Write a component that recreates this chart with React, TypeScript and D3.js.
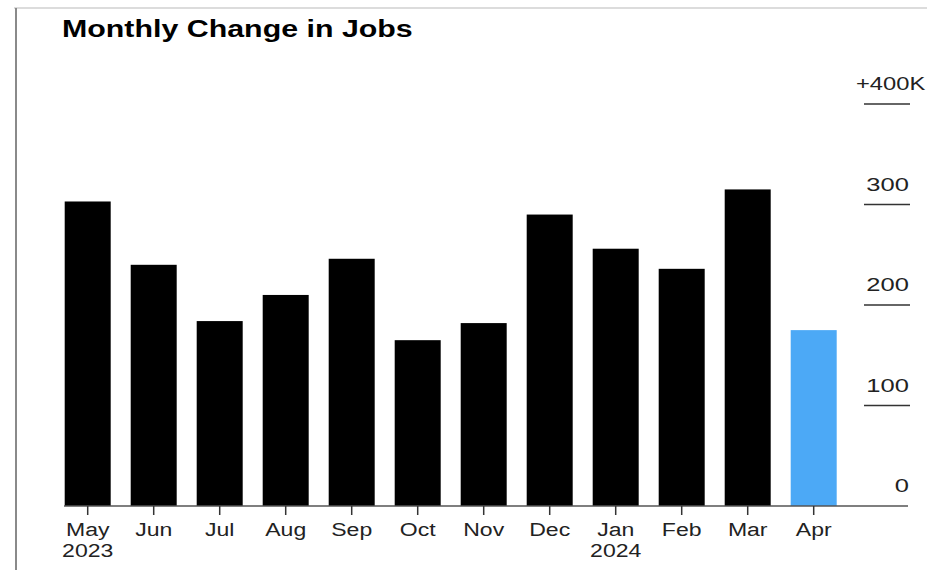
import React from "react";
import * as d3 from "d3";

const months = ["May", "Jun", "Jul", "Aug", "Sep", "Oct", "Nov", "Dec", "Jan", "Feb", "Mar", "Apr"];
const years = ["2023", "", "", "", "", "", "", "", "2024", "", "", ""];
const jobs = [303, 240, 184, 210, 246, 165, 182, 290, 256, 236, 315, 175];
const highlight = [false, false, false, false, false, false, false, false, false, false, false, true];
const yTicks = [0, 100, 200, 300, 400];
const yTickLabels = ["0", "100", "200", "300", "+400K"];
const title = "Monthly Change in Jobs";

const W = 927;
const H = 570;
const FONT = "'Liberation Sans', Arial, Helvetica, sans-serif";

export default function App() {
  const p = 20 / 66;
  const x = d3.scaleBand<string>().domain(months).range([54.7, 54.7 + 12 * 66]).paddingInner(p).paddingOuter(p / 2);
  const y = d3.scaleLinear().domain([0, 400]).range([506, 104]);
  const sx = 1.28;
  const sy = 1.42;

  return (
    <svg width={W} height={H} style={{ position: "absolute", left: 0, top: 0, background: "#fff" }}>
      {/* frame */}
      <line x1={14} x2={W} y1={8} y2={8} stroke="#dcdcdc" strokeWidth={2} />
      <line x1={16} x2={16} y1={8} y2={H} stroke="#8a8a8a" strokeWidth={2} />

      {/* title */}
      <g transform={`translate(62,37) scale(1.265,1)`}>
        <text x={0} y={0} fontFamily={FONT} fontWeight="bold" fontSize={24} fill="#000">{title}</text>
      </g>

      {/* bars */}
      {jobs.map((v, i) => (
        <rect key={months[i]} x={x(months[i])} y={y(v)} width={x.bandwidth()} height={y(0) - y(v)}
          fill={highlight[i] ? "#4ca9f6" : "#000"} />
      ))}

      {/* baseline */}
      <line x1={64} x2={908} y1={y(0)} y2={y(0)} stroke="#555" strokeWidth={1.5} />

      {/* y ticks */}
      {yTicks.map((t, i) => (
        <g key={t}>
          {t !== 0 && <line x1={864} x2={910} y1={y(t)} y2={y(t)} stroke="#333" strokeWidth={1.5} />}
          {t === 400 ? (
            <g transform={`translate(856,${y(t) - 14}) scale(1.32,1)`}>
              <text x={0} y={0} fontFamily={FONT} fontSize={18} fill="#222">{yTickLabels[i]}</text>
            </g>
          ) : (
            <g transform={`translate(909,${y(t) - 14}) scale(${sy},1)`}>
              <text x={0} y={0} textAnchor="end" fontFamily={FONT} fontSize={18} fill="#222">{yTickLabels[i]}</text>
            </g>
          )}
        </g>
      ))}

      {/* x ticks and labels */}
      {months.map((m, i) => {
        const cx = (x(m) as number) + x.bandwidth() / 2;
        return (
          <g key={m}>
            <line x1={cx} x2={cx} y1={y(0)} y2={y(0) + 9} stroke="#333" strokeWidth={1.5} />
            <g transform={`translate(${cx},536) scale(${sx},1)`}>
              <text x={0} y={0} textAnchor="middle" fontFamily={FONT} fontSize={18} fill="#222">{m}</text>
            </g>
            {years[i] && (
              <g transform={`translate(${cx},557) scale(${sx},1)`}>
                <text x={0} y={0} textAnchor="middle" fontFamily={FONT} fontSize={18} fill="#222">{years[i]}</text>
              </g>
            )}
          </g>
        );
      })}
    </svg>
  );
}
